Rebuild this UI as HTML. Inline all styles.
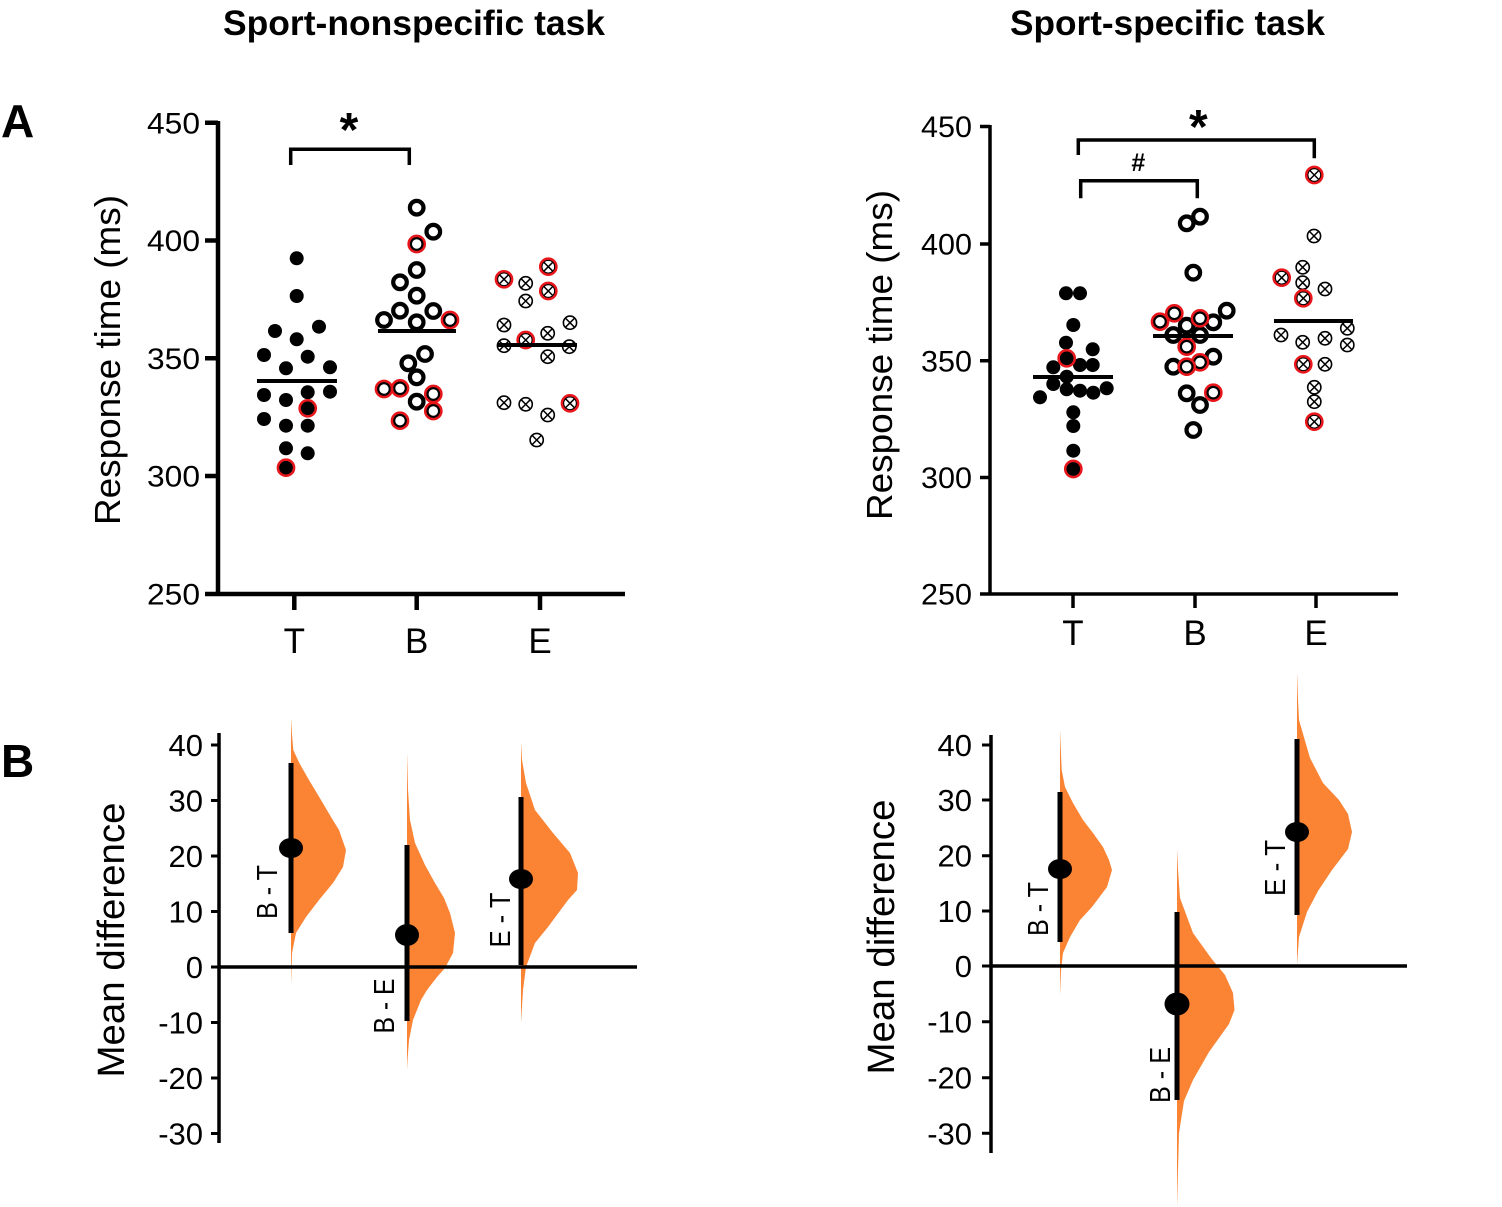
<!DOCTYPE html>
<html><head><meta charset="utf-8"><style>
html,body{margin:0;padding:0;background:#fff;}
svg{display:block;}
text{font-family:"Liberation Sans",Arial,sans-serif;fill:#000;}
</style></head><body>
<svg width="1502" height="1207" viewBox="0 0 1502 1207" xmlns="http://www.w3.org/2000/svg">
<defs>
<circle id="t" r="7" fill="#000"/>
<circle id="b" r="6.8" fill="#fff" stroke="#000" stroke-width="4.2"/>
<g id="e"><circle r="6.6" fill="#fff" stroke="#000" stroke-width="1.6"/><path d="M-4.6-4.6L4.6 4.6M-4.6 4.6L4.6-4.6" stroke="#000" stroke-width="1.5"/></g>
<circle id="r" r="8.1" fill="none" stroke="#e8161b" stroke-width="2.5"/>
</defs>

<!-- Titles -->
<text x="414" y="35" font-size="35" font-weight="bold" text-anchor="middle" textLength="382" lengthAdjust="spacingAndGlyphs">Sport-nonspecific task</text>
<text x="1167.5" y="35" font-size="35" font-weight="bold" text-anchor="middle" textLength="315" lengthAdjust="spacingAndGlyphs">Sport-specific task</text>
<text x="1" y="137" font-size="46" font-weight="bold">A</text>
<text x="1" y="777" font-size="46" font-weight="bold">B</text>

<!-- ============ TOP LEFT ============ -->
<g stroke="#000" stroke-width="4.5" fill="none">
<path d="M218 121V596"/>
<path d="M205 594H625"/>
<path d="M205 122.7H218M205 240.5H218M205 358.3H218M205 476H218"/>
<path d="M294.3 594V610M416.7 594V610M540 594V610"/>
</g>
<g font-size="30" text-anchor="end">
<text x="200" y="133.4" textLength="53" lengthAdjust="spacingAndGlyphs">450</text>
<text x="200" y="251" textLength="53" lengthAdjust="spacingAndGlyphs">400</text>
<text x="200" y="369" textLength="53" lengthAdjust="spacingAndGlyphs">350</text>
<text x="200" y="486.7" textLength="53" lengthAdjust="spacingAndGlyphs">300</text>
<text x="200" y="604.7" textLength="53" lengthAdjust="spacingAndGlyphs">250</text>
</g>
<g font-size="35" text-anchor="middle">
<text x="294.3" y="653">T</text>
<text x="416.7" y="653">B</text>
<text x="540" y="653">E</text>
</g>
<text transform="translate(120,360) rotate(-90)" font-size="36" text-anchor="middle" textLength="330" lengthAdjust="spacingAndGlyphs">Response time (ms)</text>
<path d="M290.7 165V149.3H409.3V165" stroke="#000" stroke-width="3.5" fill="none"/>
<text x="349" y="146" font-size="48" font-weight="bold" text-anchor="middle">*</text>

<!-- T left -->
<use href="#t" x="296.7" y="258.3"/><use href="#t" x="296.7" y="296"/><use href="#t" x="275" y="331"/><use href="#t" x="319" y="326.7"/><use href="#t" x="296.7" y="339.3"/><use href="#t" x="264" y="355"/><use href="#t" x="307.7" y="356.7"/><use href="#t" x="286" y="368.3"/><use href="#t" x="330" y="367.3"/><use href="#t" x="264" y="395"/><use href="#t" x="286" y="400"/><use href="#t" x="307.7" y="392.3"/><use href="#t" x="330" y="391.7"/><use href="#t" x="307.7" y="408.3"/><use href="#t" x="264" y="419"/><use href="#t" x="286" y="425.7"/><use href="#t" x="307.7" y="425.7"/><use href="#t" x="286" y="448.3"/><use href="#t" x="307.7" y="453.3"/><use href="#t" x="286" y="467.7"/>
<use href="#r" x="307.7" y="408.3"/><use href="#r" x="286" y="467.7"/>
<!-- B left -->
<use href="#b" x="416.7" y="207.7"/><use href="#b" x="433.3" y="231.7"/><use href="#b" x="416.7" y="244"/><use href="#b" x="416.7" y="270"/><use href="#b" x="400" y="282.3"/><use href="#b" x="416.7" y="295.7"/><use href="#b" x="400" y="310.7"/><use href="#b" x="433.3" y="311"/><use href="#b" x="384" y="320"/><use href="#b" x="416.7" y="322.3"/><use href="#b" x="450" y="320"/><use href="#b" x="425" y="354"/><use href="#b" x="408.3" y="363.3"/><use href="#b" x="416.7" y="377.3"/><use href="#b" x="384" y="389"/><use href="#b" x="400" y="388.3"/><use href="#b" x="433.3" y="394"/><use href="#b" x="416.7" y="401.7"/><use href="#b" x="433.3" y="411"/><use href="#b" x="400" y="420.7"/>
<use href="#r" x="416.7" y="244"/><use href="#r" x="450" y="320"/><use href="#r" x="384" y="389"/><use href="#r" x="400" y="388.3"/><use href="#r" x="433.3" y="394"/><use href="#r" x="433.3" y="411"/><use href="#r" x="400" y="420.7"/>
<!-- E left -->
<use href="#e" x="504" y="279.3"/><use href="#e" x="525.7" y="283.3"/><use href="#e" x="548.3" y="266.7"/><use href="#e" x="548.3" y="291"/><use href="#e" x="525.7" y="301"/><use href="#e" x="504" y="325"/><use href="#e" x="570" y="322.7"/><use href="#e" x="547.7" y="333.3"/><use href="#e" x="504" y="345.7"/><use href="#e" x="525.7" y="340"/><use href="#e" x="569.3" y="346.7"/><use href="#e" x="547.7" y="356.7"/><use href="#e" x="504" y="402.7"/><use href="#e" x="525.7" y="404.3"/><use href="#e" x="547.7" y="415"/><use href="#e" x="570" y="403.3"/><use href="#e" x="536.7" y="440"/>
<use href="#r" x="504" y="279.3"/><use href="#r" x="548.3" y="266.7"/><use href="#r" x="548.3" y="291"/><use href="#r" x="525.7" y="340"/><use href="#r" x="570" y="403.3"/>
<g stroke="#000" stroke-width="4">
<path d="M257 381H337M378 331H456M498 345H577"/>
</g>

<!-- ============ TOP RIGHT ============ -->
<g stroke="#000" stroke-width="3.5" fill="none">
<path d="M990 125V595"/>
<path d="M980 594H1398"/>
<path d="M980 126.5H990M980 244H990M980 360.7H990M980 477.5H990"/>
<path d="M1073 594V608M1195 594V608M1316 594V608"/>
</g>
<g font-size="30" text-anchor="end">
<text x="972" y="137" textLength="51" lengthAdjust="spacingAndGlyphs">450</text>
<text x="972" y="254.7" textLength="51" lengthAdjust="spacingAndGlyphs">400</text>
<text x="972" y="371.4" textLength="51" lengthAdjust="spacingAndGlyphs">350</text>
<text x="972" y="488" textLength="51" lengthAdjust="spacingAndGlyphs">300</text>
<text x="972" y="604.7" textLength="51" lengthAdjust="spacingAndGlyphs">250</text>
</g>
<g font-size="35" text-anchor="middle">
<text x="1073" y="645">T</text>
<text x="1195" y="645">B</text>
<text x="1316" y="645">E</text>
</g>
<text transform="translate(892,355) rotate(-90)" font-size="36" text-anchor="middle" textLength="330" lengthAdjust="spacingAndGlyphs">Response time (ms)</text>
<g stroke="#000" stroke-width="3.5" fill="none">
<path d="M1078.3 155V140H1314.3V158.3"/>
<path d="M1080.7 198.3V180.7H1197.3V198.3"/>
</g>
<text x="1198.3" y="143" font-size="48" font-weight="bold" text-anchor="middle">*</text>
<text x="1138.3" y="171" font-size="25" font-weight="bold" text-anchor="middle">#</text>

<!-- T right -->
<use href="#t" x="1066" y="293.3"/><use href="#t" x="1080" y="293.3"/><use href="#t" x="1073.3" y="325"/><use href="#t" x="1066" y="342.7"/><use href="#t" x="1092.7" y="349.3"/><use href="#t" x="1053.3" y="367.3"/><use href="#t" x="1080" y="365"/><use href="#t" x="1092.7" y="365"/><use href="#t" x="1066.7" y="376.7"/><use href="#t" x="1053.3" y="384"/><use href="#t" x="1040" y="397.3"/><use href="#t" x="1066.7" y="389.3"/><use href="#t" x="1080" y="390.7"/><use href="#t" x="1093.3" y="392.7"/><use href="#t" x="1106.7" y="388.3"/><use href="#t" x="1073.3" y="412.3"/><use href="#t" x="1073.3" y="426"/><use href="#t" x="1073.3" y="450.7"/><use href="#t" x="1073.3" y="469"/><use href="#t" x="1066.7" y="358.3"/>
<use href="#r" x="1066.7" y="358.3"/><use href="#r" x="1073.3" y="469"/>
<!-- B right -->
<use href="#b" x="1186.7" y="223.3"/><use href="#b" x="1200" y="216.7"/><use href="#b" x="1193.3" y="272.7"/><use href="#b" x="1226.7" y="310.7"/><use href="#b" x="1213.3" y="322.3"/><use href="#b" x="1186.7" y="325.7"/><use href="#b" x="1173.3" y="335"/><use href="#b" x="1200" y="335"/><use href="#b" x="1213.3" y="356.7"/><use href="#b" x="1173.3" y="366.7"/><use href="#b" x="1186.7" y="393.3"/><use href="#b" x="1200" y="405"/><use href="#b" x="1193.3" y="430"/>
<use href="#b" x="1160" y="321.7"/><use href="#r" x="1160" y="321.7"/>
<use href="#b" x="1174.3" y="313.3"/><use href="#r" x="1174.3" y="313.3"/>
<use href="#b" x="1200" y="318.3"/><use href="#r" x="1200" y="318.3"/>
<use href="#b" x="1186.7" y="346.7"/><use href="#r" x="1186.7" y="346.7"/>
<use href="#b" x="1200" y="362.3"/><use href="#r" x="1200" y="362.3"/>
<use href="#b" x="1186.7" y="366.7"/><use href="#r" x="1186.7" y="366.7"/>
<use href="#b" x="1213.3" y="392.7"/><use href="#r" x="1213.3" y="392.7"/>
<!-- E right -->
<use href="#e" x="1314.3" y="175"/><use href="#e" x="1314" y="236"/><use href="#e" x="1302.7" y="267.3"/><use href="#e" x="1281.7" y="277.7"/><use href="#e" x="1302.7" y="282.7"/><use href="#e" x="1325" y="289"/><use href="#e" x="1303.3" y="298.3"/><use href="#e" x="1347.3" y="328.3"/><use href="#e" x="1281" y="335"/><use href="#e" x="1302.7" y="342.3"/><use href="#e" x="1325" y="338.3"/><use href="#e" x="1347.3" y="345"/><use href="#e" x="1303.3" y="364.3"/><use href="#e" x="1325" y="364.3"/><use href="#e" x="1314.3" y="387.3"/><use href="#e" x="1314.3" y="401.7"/><use href="#e" x="1314.3" y="421.7"/>
<use href="#r" x="1314.3" y="175"/><use href="#r" x="1281.7" y="277.7"/><use href="#r" x="1303.3" y="298.3"/><use href="#r" x="1303.3" y="364.3"/><use href="#r" x="1314.3" y="421.7"/>
<g stroke="#000" stroke-width="4">
<path d="M1033 377H1113M1153 336H1233M1274 321H1353"/>
</g>

<!-- ============ BOTTOM LEFT ============ -->
<g fill="#fa8334">
<path d="M291 718L292 735L293.3 750L299.3 763L309 780L321 800L331 817L339 830L346 850L343 867L333 883L319 900L306 917L296 933L292 953L291 985Z"/>
<path d="M407 752L408 790L410 820L415 843L425 865L435 883L444 898L450 913L455 933L453 953L445 968L437 977L427 990L421 1000L413 1020L409 1040L407.5 1060L407 1070Z"/>
<path d="M521 742L522 760L526 783L535 810L553 833L570 853L578 873L577 890L568 900L548 927L535 943L526 967L523 990L521 1023Z"/>
</g>
<g stroke="#000" fill="none">
<path d="M219 733V1143" stroke-width="3.5"/>
<path d="M211 745H219M211 800.5H219M211 856H219M211 911.5H219M211 967H219M211 1022.5H219M211 1078H219M211 1133.5H219" stroke-width="3"/>
<path d="M219 967H637" stroke-width="3.5"/>
<path d="M291 763V933M407 845V1021M521 797V965" stroke-width="5"/>
</g>
<ellipse cx="291" cy="848" rx="12" ry="10"/>
<ellipse cx="407" cy="935" rx="12" ry="11"/>
<ellipse cx="521" cy="879" rx="12" ry="10"/>
<g font-size="31" text-anchor="end">
<text x="203" y="756">40</text>
<text x="203" y="811.5">30</text>
<text x="203" y="867">20</text>
<text x="203" y="922.5">10</text>
<text x="203" y="978">0</text>
<text x="203" y="1033.5">-10</text>
<text x="203" y="1089">-20</text>
<text x="203" y="1144.5">-30</text>
</g>
<text transform="translate(124,940) rotate(-90)" font-size="38" text-anchor="middle" textLength="275" lengthAdjust="spacingAndGlyphs">Mean difference</text>
<g font-size="29" text-anchor="middle">
<text transform="translate(277,892) rotate(-90)" textLength="54" lengthAdjust="spacingAndGlyphs">B - T</text>
<text transform="translate(394,1006) rotate(-90)" textLength="55" lengthAdjust="spacingAndGlyphs">B - E</text>
<text transform="translate(510,920) rotate(-90)" textLength="55" lengthAdjust="spacingAndGlyphs">E - T</text>
</g>

<!-- ============ BOTTOM RIGHT ============ -->
<g fill="#fa8334">
<path d="M1060 730L1061.7 770L1065 787L1073 803L1083 820L1093 833L1103 847L1109 860L1112 870L1107 887L1092 907L1080 920L1070 937L1063 953L1061 970L1060 995Z"/>
<path d="M1177 849L1178 870L1180 898L1193 933L1211 958L1225 975L1233 993L1234.5 1010L1229 1024L1209 1052L1193 1080L1184 1101L1179 1133L1178 1170L1177 1207Z"/>
<path d="M1297 672L1298 700L1299 720L1310 758L1323 783L1339 800L1348 814L1352 832L1348 849L1332 870L1318 891L1307 912L1299 937L1297 965Z"/>
</g>
<g stroke="#000" fill="none">
<path d="M991 735V1153" stroke-width="3.5"/>
<path d="M982 745H991M982 800H991M982 855.7H991M982 911H991M982 966H991M982 1021.7H991M982 1077.7H991M982 1133.3H991" stroke-width="3"/>
<path d="M991 966H1407" stroke-width="3.5"/>
<path d="M1060 792V942M1177 912V1100M1297 739V915" stroke-width="5"/>
</g>
<ellipse cx="1060" cy="869" rx="12" ry="10"/>
<ellipse cx="1177" cy="1004" rx="12.5" ry="11.5"/>
<ellipse cx="1297" cy="832" rx="12" ry="10"/>
<g font-size="31" text-anchor="end">
<text x="972" y="756">40</text>
<text x="972" y="811">30</text>
<text x="972" y="866.7">20</text>
<text x="972" y="922">10</text>
<text x="972" y="977">0</text>
<text x="972" y="1032.7">-10</text>
<text x="972" y="1088.7">-20</text>
<text x="972" y="1144.3">-30</text>
</g>
<text transform="translate(894,937) rotate(-90)" font-size="38" text-anchor="middle" textLength="275" lengthAdjust="spacingAndGlyphs">Mean difference</text>
<g font-size="29" text-anchor="middle">
<text transform="translate(1048,909) rotate(-90)" textLength="54" lengthAdjust="spacingAndGlyphs">B - T</text>
<text transform="translate(1170,1075) rotate(-90)" textLength="56" lengthAdjust="spacingAndGlyphs">B - E</text>
<text transform="translate(1285,868) rotate(-90)" textLength="56" lengthAdjust="spacingAndGlyphs">E - T</text>
</g>
</svg>
</body></html>
